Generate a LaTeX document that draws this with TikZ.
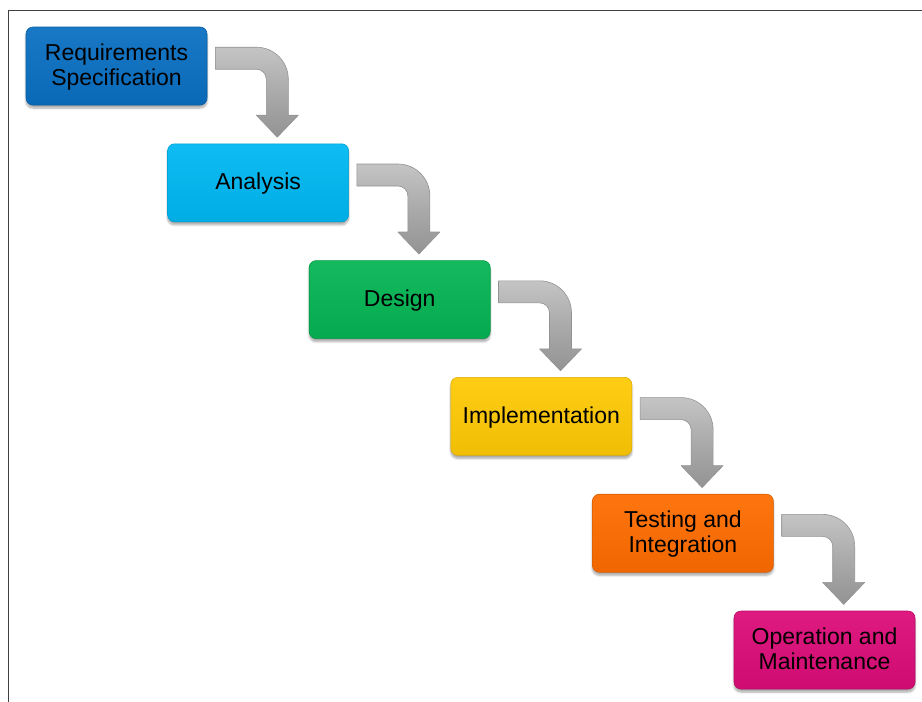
\documentclass[tikz,border=0pt]{standalone}
\usepackage{fontspec}
\setmainfont{Liberation Sans}
\usetikzlibrary{shadows.blur,calc}

\definecolor{reqblue}{HTML}{0A70C2}
\definecolor{anablue}{HTML}{00B8F2}
\definecolor{desgreen}{HTML}{05B554}
\definecolor{impyellow}{HTML}{FFCA05}
\definecolor{testorange}{HTML}{FF6D00}
\definecolor{opmagenta}{HTML}{DC0C78}
\definecolor{framegray}{HTML}{404040}
\definecolor{arrowlight}{HTML}{C4C4C4}
\definecolor{arrowmid}{HTML}{AAAAAA}
\definecolor{arrowdark}{HTML}{939393}

% centred label of one or two lines, set a little low in its box
\newcommand\phasetext[1]{\raisebox{-2pt}[\height][\depth]{\begin{tabular}{@{}c@{}}#1\end{tabular}}}

\tikzset{
  phase/.style={
    rounded corners=7pt, minimum width=181pt, minimum height=78pt,
    inner sep=0pt, text=black,
    font=\fontsize{23}{24.5}\selectfont,
    top color=#1!94!white, middle color=#1, bottom color=#1!94!black,
    draw=#1!85!black, line width=0.6pt,
    blur shadow={shadow xshift=0pt, shadow yshift=-3pt, shadow blur steps=6, shadow opacity=35}
  },
  bentarrow/.style={
    top color=arrowlight, bottom color=arrowdark, middle color=arrowmid,
    draw=arrowdark, line width=0.6pt, line join=round
  }
}

\begin{document}
\begin{tikzpicture}[x=1pt,y=-1pt]
  \useasboundingbox (0,0) rectangle (922,702);

  % page frame
  \draw[framegray, line width=1.5pt] (8.5,702) -- (8.5,10.5) -- (922,10.5);

  % the six phases
  \node[phase=reqblue]    (b1) at (116.5,66)    {\phasetext{Requirements\\Specification}};
  \node[phase=anablue]    (b2) at (258.1,182.8) {\phasetext{Analysis}};
  \node[phase=desgreen]   (b3) at (399.7,299.6) {\phasetext{Design}};
  \node[phase=impyellow]  (b4) at (541.3,416.4) {\phasetext{Implementation}};
  \node[phase=testorange] (b5) at (682.9,533.2) {\phasetext{Testing and\\Integration}};
  \node[phase=opmagenta]  (b6) at (824.5,650)   {\phasetext{Operation and\\Maintenance}};

  % bent arrows leading from each phase down to the next one
  \foreach \a/\b in {b1/b2,b2/b3,b3/b4,b4/b5,b5/b6}{
    \coordinate (s) at ($(\a.north east)+(8,20.5)$);
    \path[bentarrow, shift={(s)}]
      (0,0) -- (41,0)
      .. controls (58.7,0) and (73,14.3) .. (73,32)
      -- (73,68) -- (83,68) -- (62,90) -- (41,68) -- (51,68) -- (51,32)
      .. controls (51,26.5) and (46.5,22) .. (41,22)
      -- (0,22) -- cycle;
  }
\end{tikzpicture}
\end{document}
